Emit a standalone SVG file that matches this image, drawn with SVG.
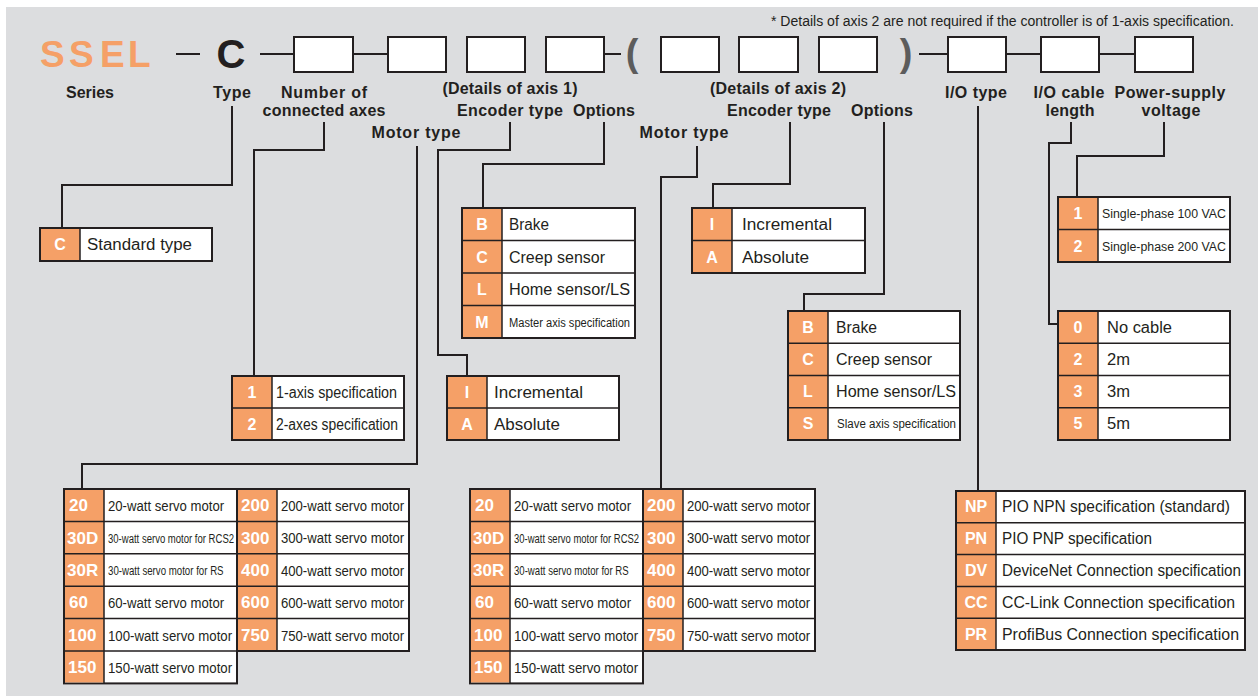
<svg xmlns="http://www.w3.org/2000/svg" width="1258" height="696" viewBox="0 0 1258 696">
<style>
.ln{fill:none;stroke:#231f20;stroke-width:2}
.hb{fill:#fff;stroke:#231f20;stroke-width:2}
.tb{fill:#fff;stroke:#231f20;stroke-width:2}
.oc{fill:#f5a067}
.gl{stroke:#231f20;stroke-width:1.5}
text{font-family:"Liberation Sans",Arial,sans-serif}
.code{font-weight:bold;font-size:16px;fill:#fff;text-anchor:middle}
.mc{font-weight:bold;font-size:17px;fill:#fff}
.d{font-size:16px;fill:#231f20}
.ds{font-size:12px;fill:#231f20}
.m{font-size:15px;fill:#231f20}
.lbl{font-weight:bold;font-size:16px;fill:#231f20;text-anchor:middle}
</style>
<rect x="6" y="7" width="1252" height="689" fill="#dcdddf"/>
<text x="771" y="26" font-size="14" fill="#231f20" textLength="463" lengthAdjust="spacingAndGlyphs">* Details of axis 2 are not required if the controller is of 1-axis specification.</text>

<g id="header">
<text x="40 69 100 128" y="67" font-size="37" font-weight="bold" fill="#f5a067">SSEL</text>
<text x="231" y="68" font-size="40" font-weight="bold" fill="#231f20" text-anchor="middle">C</text>
<text x="632" y="66" font-size="38" font-weight="bold" fill="#5c5c5c" text-anchor="middle">(</text>
<text x="906" y="66" font-size="38" font-weight="bold" fill="#5c5c5c" text-anchor="middle">)</text>
<rect class="hb" x="294" y="37" width="59" height="35"/>
<rect class="hb" x="388" y="37" width="58" height="35"/>
<rect class="hb" x="467" y="37" width="58" height="35"/>
<rect class="hb" x="546" y="37" width="58" height="35"/>
<rect class="hb" x="661" y="37" width="58" height="35"/>
<rect class="hb" x="739" y="37" width="59" height="35"/>
<rect class="hb" x="819" y="37" width="58" height="35"/>
<rect class="hb" x="948" y="37" width="58" height="35"/>
<rect class="hb" x="1041" y="37" width="58" height="35"/>
<rect class="hb" x="1135" y="37" width="58" height="35"/>
</g>

<g id="labels">
<text class="lbl" x="90" y="98" textLength="48">Series</text>
<text class="lbl" x="232" y="98" textLength="38">Type</text>
<text class="lbl" x="324" y="98" textLength="86">Number of</text>
<text class="lbl" x="324" y="116" textLength="123">connected axes</text>
<text class="lbl" x="510" y="94" textLength="135">(Details of axis 1)</text>
<text class="lbl" x="510" y="116" textLength="106">Encoder type</text>
<text class="lbl" x="604" y="116" textLength="62">Options</text>
<text class="lbl" x="416" y="138" textLength="89">Motor type</text>
<text class="lbl" x="778" y="94" textLength="136">(Details of axis 2)</text>
<text class="lbl" x="779" y="116" textLength="104">Encoder type</text>
<text class="lbl" x="882" y="116" textLength="62">Options</text>
<text class="lbl" x="684" y="138" textLength="89">Motor type</text>
<text class="lbl" x="976" y="98" textLength="62">I/O type</text>
<text class="lbl" x="1069" y="98" textLength="71">I/O cable</text>
<text class="lbl" x="1070" y="116" textLength="49">length</text>
<text class="lbl" x="1170" y="98" textLength="111">Power-supply</text>
<text class="lbl" x="1171" y="116" textLength="59">voltage</text>
</g>

<g id="connectors">
<path class="ln" d="M176 54H200M260 54H294M353 54H388M604 54H621M919 54H948M1006 54H1041M1099 54H1135"/>
<path class="ln" d="M232 106V185H62V228"/>
<path class="ln" d="M324 122V150H254V376"/>
<path class="ln" d="M417 146V464H82V489"/>
<path class="ln" d="M510 122V150H438V355H467V376"/>
<path class="ln" d="M604 122V164H483V208"/>
<path class="ln" d="M697 146V177H661V489"/>
<path class="ln" d="M790 122V184H713V208"/>
<path class="ln" d="M884 122V294H804V311"/>
<path class="ln" d="M978 106V491"/>
<path class="ln" d="M1071 122V143H1049V324H1058"/>
<path class="ln" d="M1164 122V156H1077V197"/>
</g>

<g id="type-table">
<rect class="tb" x="40" y="228" width="172" height="33"/>
<rect class="oc" x="41" y="229" width="39" height="31"/>
<line class="gl" x1="80" y1="228" x2="80" y2="261"/>
<text class="code" x="60" y="250">C</text>
<text class="d" x="87" y="250" textLength="105" lengthAdjust="spacingAndGlyphs">Standard type</text>
</g>

<g id="axes-table">
<rect class="tb" x="232" y="376" width="172" height="64"/>
<rect class="oc" x="233" y="377" width="39" height="62"/>
<path class="gl" d="M272 376V440M232 408H404"/>
<text class="code" x="252" y="397.5">1</text>
<text class="code" x="252" y="429.5">2</text>
<text class="d" x="276" y="397.5" textLength="121" lengthAdjust="spacingAndGlyphs">1-axis specification</text>
<text class="d" x="276" y="429.5" textLength="122" lengthAdjust="spacingAndGlyphs">2-axes specification</text>
</g>

<g id="options1-table">
<rect class="tb" x="462" y="208" width="173" height="130"/>
<rect class="oc" x="463" y="209" width="39" height="128"/>
<path class="gl" d="M502 208V338M462 240.5H635M462 273H635M462 305.5H635"/>
<text class="code" x="482" y="230">B</text>
<text class="code" x="482" y="262.5">C</text>
<text class="code" x="482" y="295">L</text>
<text class="code" x="482" y="327.5">M</text>
<text class="d" x="509" y="230" textLength="40" lengthAdjust="spacingAndGlyphs">Brake</text>
<text class="d" x="509" y="262.5" textLength="96" lengthAdjust="spacingAndGlyphs">Creep sensor</text>
<text class="d" x="509" y="295" textLength="121" lengthAdjust="spacingAndGlyphs">Home sensor/LS</text>
<text class="ds" x="509" y="326.5" textLength="121" lengthAdjust="spacingAndGlyphs">Master axis specification</text>
</g>

<g id="encoder1-table">
<rect class="tb" x="447" y="376" width="172" height="64"/>
<rect class="oc" x="448" y="377" width="39" height="62"/>
<path class="gl" d="M487 376V440M447 408H619"/>
<text class="code" x="467" y="397.5">I</text>
<text class="code" x="467" y="429.5">A</text>
<text class="d" x="494" y="397.5" textLength="89" lengthAdjust="spacingAndGlyphs">Incremental</text>
<text class="d" x="494" y="429.5" textLength="66" lengthAdjust="spacingAndGlyphs">Absolute</text>
</g>

<g id="encoder2-table">
<rect class="tb" x="692" y="208" width="173" height="65"/>
<rect class="oc" x="693" y="209" width="39" height="63"/>
<path class="gl" d="M732 208V273M692 240.5H865"/>
<text class="code" x="712" y="230">I</text>
<text class="code" x="712" y="262.5">A</text>
<text class="d" x="742" y="230" textLength="90" lengthAdjust="spacingAndGlyphs">Incremental</text>
<text class="d" x="742" y="262.5" textLength="67" lengthAdjust="spacingAndGlyphs">Absolute</text>
</g>

<g id="options2-table">
<rect class="tb" x="788" y="311" width="172" height="129"/>
<rect class="oc" x="789" y="312" width="39" height="127"/>
<path class="gl" d="M828 311V440M788 343.25H960M788 375.5H960M788 407.75H960"/>
<text class="code" x="808" y="332.6">B</text>
<text class="code" x="808" y="364.9">C</text>
<text class="code" x="808" y="397.1">L</text>
<text class="code" x="808" y="429.4">S</text>
<text class="d" x="836" y="332.6" textLength="41" lengthAdjust="spacingAndGlyphs">Brake</text>
<text class="d" x="836" y="364.9" textLength="96" lengthAdjust="spacingAndGlyphs">Creep sensor</text>
<text class="d" x="836" y="397.1" textLength="120" lengthAdjust="spacingAndGlyphs">Home sensor/LS</text>
<text class="ds" x="837" y="428.4" textLength="119" lengthAdjust="spacingAndGlyphs">Slave axis specification</text>
</g>

<g id="power-table">
<rect class="tb" x="1058" y="197" width="172" height="65"/>
<rect class="oc" x="1059" y="198" width="39" height="63"/>
<path class="gl" d="M1098 197V262M1058 229.5H1230"/>
<text class="code" x="1078" y="219">1</text>
<text class="code" x="1078" y="251.5">2</text>
<text class="ds" x="1102" y="218" font-size="13" textLength="124" lengthAdjust="spacingAndGlyphs">Single-phase 100 VAC</text>
<text class="ds" x="1102" y="250.5" font-size="13" textLength="124" lengthAdjust="spacingAndGlyphs">Single-phase 200 VAC</text>
</g>

<g id="cable-table">
<rect class="tb" x="1058" y="311" width="172" height="129"/>
<rect class="oc" x="1059" y="312" width="39" height="127"/>
<path class="gl" d="M1098 311V440M1058 343.25H1230M1058 375.5H1230M1058 407.75H1230"/>
<text class="code" x="1078" y="332.6">0</text>
<text class="code" x="1078" y="364.9">2</text>
<text class="code" x="1078" y="397.1">3</text>
<text class="code" x="1078" y="429.4">5</text>
<text class="d" x="1107" y="332.6" textLength="65" lengthAdjust="spacingAndGlyphs">No cable</text>
<text class="d" x="1107" y="364.9" textLength="23" lengthAdjust="spacingAndGlyphs">2m</text>
<text class="d" x="1107" y="397.1" textLength="23" lengthAdjust="spacingAndGlyphs">3m</text>
<text class="d" x="1107" y="429.4" textLength="23" lengthAdjust="spacingAndGlyphs">5m</text>
</g>

<g id="io-table">
<rect class="tb" x="956" y="491" width="289" height="159"/>
<rect class="oc" x="957" y="492" width="39" height="157"/>
<path class="gl" d="M996 491V650M956 522.8H1245M956 554.6H1245M956 586.4H1245M956 618.2H1245"/>
<text class="code" x="976" y="512.4">NP</text>
<text class="code" x="976" y="544.2">PN</text>
<text class="code" x="976" y="576">DV</text>
<text class="code" x="976" y="607.8">CC</text>
<text class="code" x="976" y="639.6">PR</text>
<text class="d" x="1002" y="512.4" textLength="228" lengthAdjust="spacingAndGlyphs">PIO NPN specification (standard)</text>
<text class="d" x="1002" y="544.2" textLength="150" lengthAdjust="spacingAndGlyphs">PIO PNP specification</text>
<text class="d" x="1002" y="576" textLength="239" lengthAdjust="spacingAndGlyphs">DeviceNet Connection specification</text>
<text class="d" x="1002" y="607.8" textLength="233" lengthAdjust="spacingAndGlyphs">CC-Link Connection specification</text>
<text class="d" x="1002" y="639.6" textLength="237" lengthAdjust="spacingAndGlyphs">ProfiBus Connection specification</text>
</g>

<g id="motor1-table">
<rect class="tb" x="64" y="489" width="173" height="194.4"/>
<rect class="tb" x="237" y="489" width="172" height="162"/>
<rect class="oc" x="65" y="490" width="39" height="192.4"/>
<rect class="oc" x="238" y="490" width="39" height="160"/>
<path class="gl" d="M104 489V683.4M277 489V651M64 521.4H409M64 553.8H409M64 586.2H409M64 618.6H409M64 651H237"/>
<text class="mc" x="69" y="511.2">20</text>
<text class="mc" x="67" y="543.6">30D</text>
<text class="mc" x="67" y="576">30R</text>
<text class="mc" x="69" y="608.4">60</text>
<text class="mc" x="68" y="640.8">100</text>
<text class="mc" x="68" y="673.2">150</text>
<text class="mc" x="241" y="511.2">200</text>
<text class="mc" x="241" y="543.6">300</text>
<text class="mc" x="241" y="576">400</text>
<text class="mc" x="241" y="608.4">600</text>
<text class="mc" x="241" y="640.8">750</text>
<text class="m" transform="translate(108 511) scale(0.877 1)">20-watt servo motor</text>
<text class="ds" transform="translate(108 542.5) scale(0.795 1)">30-watt servo motor for RCS2</text>
<text class="ds" transform="translate(108 575) scale(0.807 1)">30-watt servo motor for RS</text>
<text class="m" transform="translate(108 608.2) scale(0.877 1)">60-watt servo motor</text>
<text class="m" transform="translate(108 640.6) scale(0.882 1)">100-watt servo motor</text>
<text class="m" transform="translate(108 673) scale(0.882 1)">150-watt servo motor</text>
<text class="m" transform="translate(281 511) scale(0.875 1)">200-watt servo motor</text>
<text class="m" transform="translate(281 543.4) scale(0.875 1)">300-watt servo motor</text>
<text class="m" transform="translate(281 575.8) scale(0.875 1)">400-watt servo motor</text>
<text class="m" transform="translate(281 608.2) scale(0.875 1)">600-watt servo motor</text>
<text class="m" transform="translate(281 640.6) scale(0.875 1)">750-watt servo motor</text>
</g>

<g id="motor2-table">
<rect class="tb" x="470" y="489" width="173" height="194.4"/>
<rect class="tb" x="643" y="489" width="172" height="162"/>
<rect class="oc" x="471" y="490" width="39" height="192.4"/>
<rect class="oc" x="644" y="490" width="39" height="160"/>
<path class="gl" d="M510 489V683.4M683 489V651M470 521.4H815M470 553.8H815M470 586.2H815M470 618.6H815M470 651H643"/>
<text class="mc" x="475" y="511.2">20</text>
<text class="mc" x="473" y="543.6">30D</text>
<text class="mc" x="473" y="576">30R</text>
<text class="mc" x="475" y="608.4">60</text>
<text class="mc" x="474" y="640.8">100</text>
<text class="mc" x="474" y="673.2">150</text>
<text class="mc" x="647" y="511.2">200</text>
<text class="mc" x="647" y="543.6">300</text>
<text class="mc" x="647" y="576">400</text>
<text class="mc" x="647" y="608.4">600</text>
<text class="mc" x="647" y="640.8">750</text>
<text class="m" transform="translate(514 511) scale(0.884 1)">20-watt servo motor</text>
<text class="ds" transform="translate(514 542.5) scale(0.789 1)">30-watt servo motor for RCS2</text>
<text class="ds" transform="translate(514 575) scale(0.8 1)">30-watt servo motor for RS</text>
<text class="m" transform="translate(514 608.2) scale(0.884 1)">60-watt servo motor</text>
<text class="m" transform="translate(514 640.6) scale(0.882 1)">100-watt servo motor</text>
<text class="m" transform="translate(514 673) scale(0.882 1)">150-watt servo motor</text>
<text class="m" transform="translate(687 511) scale(0.875 1)">200-watt servo motor</text>
<text class="m" transform="translate(687 543.4) scale(0.875 1)">300-watt servo motor</text>
<text class="m" transform="translate(687 575.8) scale(0.875 1)">400-watt servo motor</text>
<text class="m" transform="translate(687 608.2) scale(0.875 1)">600-watt servo motor</text>
<text class="m" transform="translate(687 640.6) scale(0.875 1)">750-watt servo motor</text>
</g>
</svg>
